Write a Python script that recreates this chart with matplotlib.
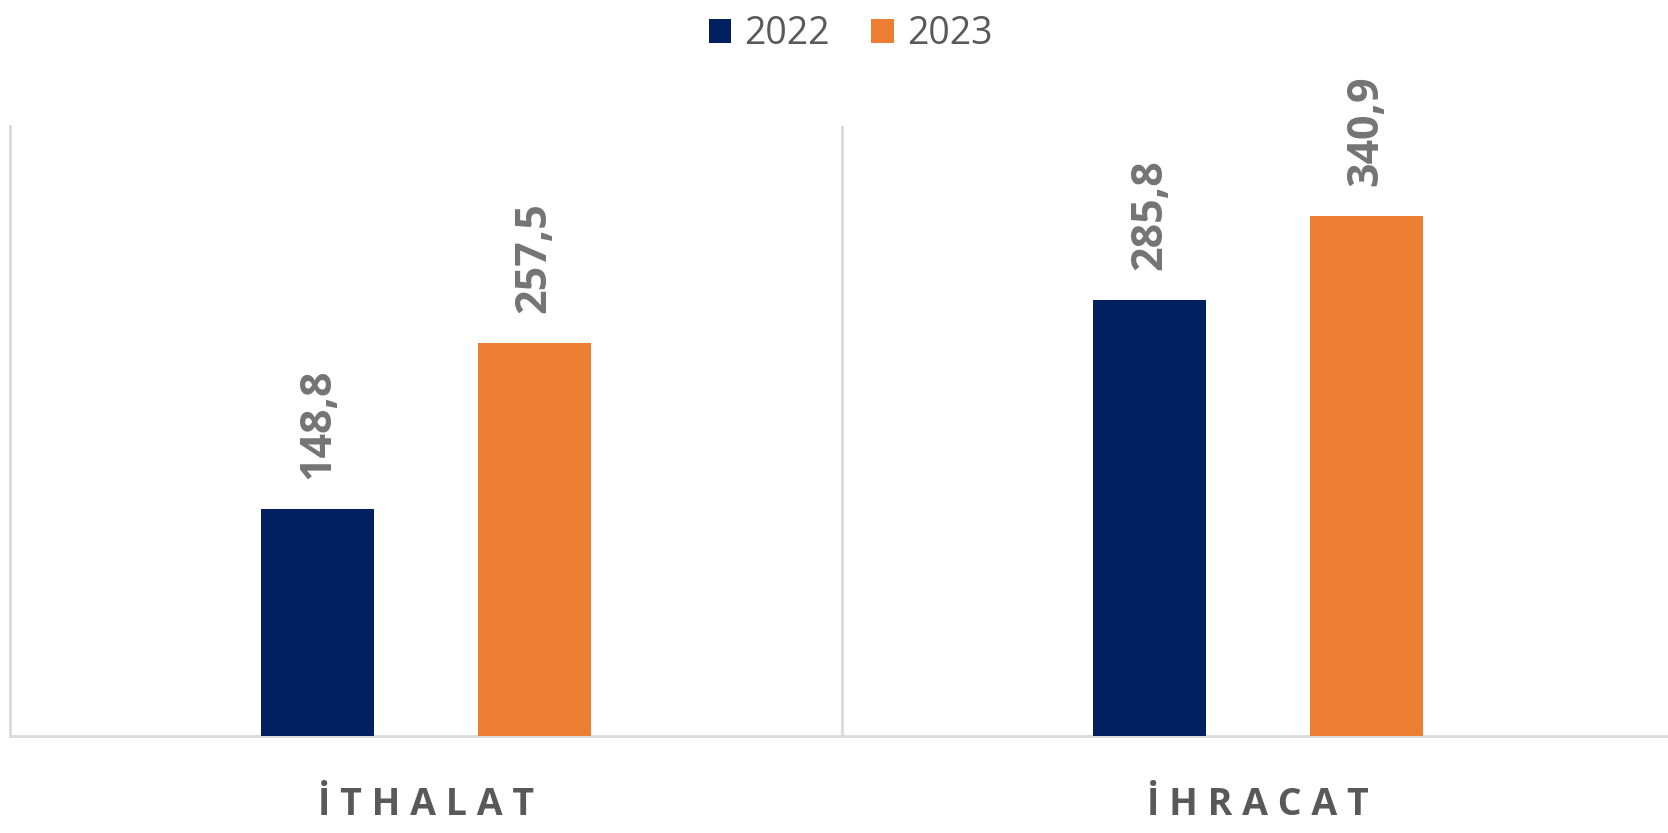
import numpy as np
import matplotlib
matplotlib.use("Agg")
import matplotlib.pyplot as plt

categories = ["İTHALAT", "İHRACAT"]
years = ["2022", "2023"]
values_2022 = [148.8, 285.8]
values_2023 = [257.5, 340.9]

colors = {"2022": "#002060", "2023": "#ED7D31"}
text_gray = "#595959"
line_gray = "#D9D9D9"

plt.rcParams['font.family'] = ['Open Sans', 'DejaVu Sans']

fig = plt.figure(figsize=(16.68, 8.33), dpi=100)
# axes run slightly past the right edge of the picture
ax = fig.add_axes([0.006, 0.1164, 0.9976, 0.7323])

x = np.arange(len(categories))
width = 0.136
offset = 0.13

for vals, year, sign in [(values_2022, "2022", -1), (values_2023, "2023", 1)]:
  bars = ax.bar(x + sign * offset, vals, width, color=colors[year], label=year, zorder=3)
  for b, v in zip(bars, vals):
    ax.annotate("{0:.1f}".format(v).replace(".", ","),
                xy=(b.get_x() + b.get_width() / 2, v),
                xytext=(0, 22), textcoords="offset points",
                rotation=90, ha="center", va="bottom",
                fontsize=31, fontweight="bold", color="#747474")

ax.set_xlim(-0.5, len(categories) - 0.5)
ax.set_ylim(0, 400)

# category separators
for i in range(1, len(categories)):
  ax.axvline(i - 0.5, color=line_gray, lw=2, zorder=1)

for s in ["top", "right"]:
  ax.spines[s].set_visible(False)
ax.spines["left"].set_color(line_gray)
ax.spines["left"].set_linewidth(2)
ax.spines["bottom"].set_color(line_gray)
ax.spines["bottom"].set_linewidth(2)

ax.set_yticks([])
ax.set_xticks(x)
ax.set_xticklabels([" ".join(c) for c in categories], fontsize=27,
                   fontweight="bold", color=text_gray)
ax.tick_params(axis="x", length=0, pad=36)

leg = fig.legend(loc="center", bbox_to_anchor=(0.51, 0.959), ncol=2,
                 frameon=False, fontsize=27, handlelength=0.6, handleheight=0.6,
                 handletextpad=0.35, columnspacing=1.1)
for t in leg.get_texts():
  t.set_color(text_gray)

plt.savefig("out.png", format="png")
